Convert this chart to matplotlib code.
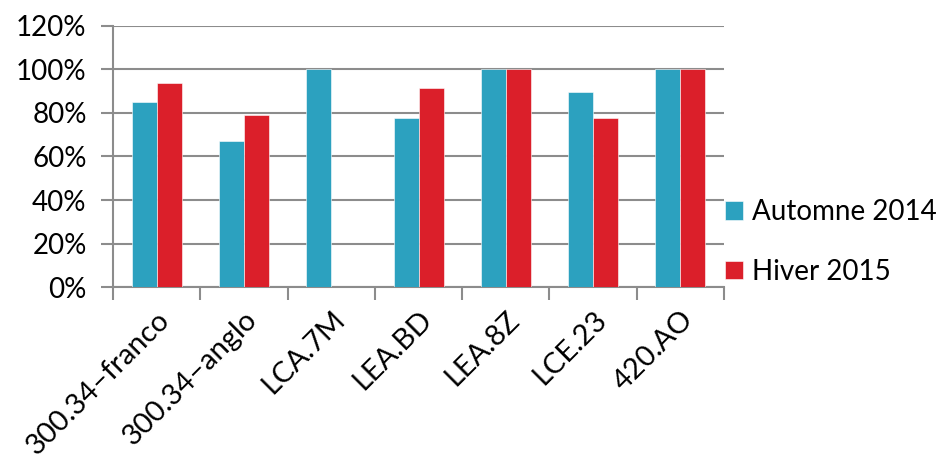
import numpy as np
from matplotlib import pyplot as plt
from matplotlib.ticker import FuncFormatter

plt.rcParams['font.family'] = ['Lato', 'DejaVu Sans']

# data
categories = ["300.34–franco", "300.34–anglo", "LCA.7M", "LEA.BD", "LEA.8Z", "LCE.23", "420.AO"]
automne_2014 = [85.2, 67.1, 100, 77.7, 100, 89.5, 100]
hiver_2015 = [93.6, 79.1, 0, 91.3, 100, 77.7, 100]
series_names = ["Automne 2014", "Hiver 2015"]

blue = "#2ca1bf"
red = "#db1f2a"
grid_col = "#8c8c8c"

fig = plt.figure(figsize=(9.45, 4.59), dpi=100)
ax = fig.add_axes([0.1196, 0.3747, 0.6466, 0.5687])

x = np.arange(len(categories))
w = 0.286
b1 = ax.bar(x - w / 2, automne_2014, w, color=blue, edgecolor="white", linewidth=0.4,
            label=series_names[0], zorder=3)
b2 = ax.bar(x + w / 2, hiver_2015, w, color=red, edgecolor="white", linewidth=0.4,
            label=series_names[1], zorder=3)

ax.set_xlim(-0.5, len(categories) - 0.5)
ax.set_ylim(0, 120)
ax.set_yticks(np.arange(0, 121, 20))
ax.yaxis.set_major_formatter(FuncFormatter(lambda v, p: "%d%%" % v))
ax.yaxis.grid(True, color=grid_col, linewidth=1.5, zorder=0)

# category boundary ticks, labels in the middle
ax.set_xticks(np.arange(len(categories) + 1) - 0.5)
ax.set_xticklabels([])
ax.set_xticks(x, minor=True)
ax.set_xticklabels(categories, minor=True, rotation=45, ha="right",
                   rotation_mode="anchor", fontsize=21)
ax.tick_params(axis="x", which="minor", length=0, pad=14)
ax.tick_params(axis="x", which="major", length=9, width=1.5, color=grid_col)
ax.tick_params(axis="y", length=9, width=1.5, color=grid_col, labelsize=20, pad=10)

for s in ["top", "right"]:
    ax.spines[s].set_visible(False)
for s in ["left", "bottom"]:
    ax.spines[s].set_color(grid_col)
    ax.spines[s].set_linewidth(1.5)

fig.legend(handles=[b1, b2], loc="upper left", bbox_to_anchor=(0.755, 0.59),
           frameon=False, fontsize=20, handlelength=0.65, handleheight=0.65,
           handletextpad=0.35, labelspacing=1.2, borderaxespad=0)

fig.savefig("out.png", dpi=100)
